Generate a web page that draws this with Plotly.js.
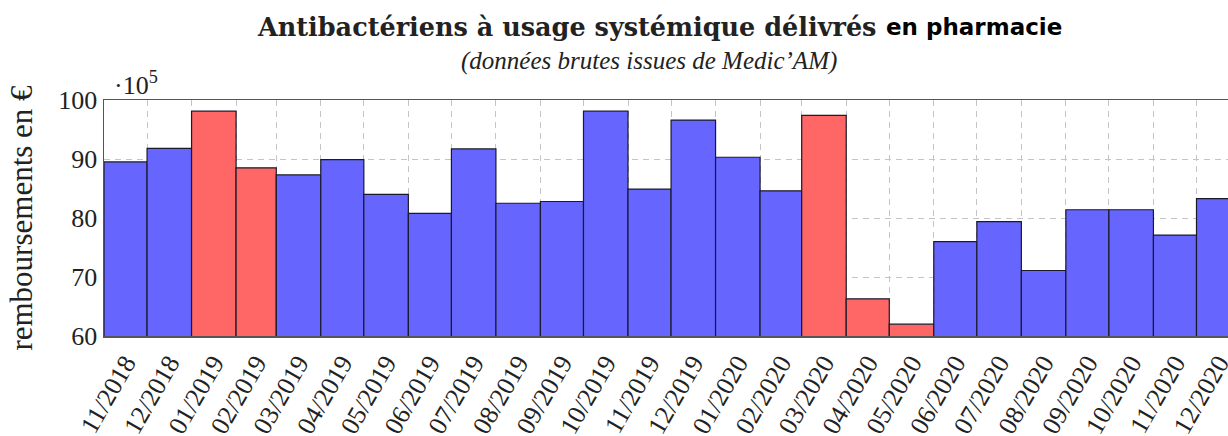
<!DOCTYPE html>
<html>
<head>
<meta charset="utf-8">
<script src="https://cdn.plot.ly/plotly-3.0.1.min.js"></script>
<style>
html,body{margin:0;padding:0;overflow:hidden;background:#fff;}
#chart{width:1250px;height:436px;}
</style>
</head>
<body>
<div id="chart"></div>
<script>
// Monthly reimbursements (in units of 10^5 €)
const months = ['11/2018','12/2018','01/2019','02/2019','03/2019','04/2019','05/2019','06/2019','07/2019','08/2019','09/2019','10/2019','11/2019','12/2019','01/2020','02/2020','03/2020','04/2020','05/2020','06/2020','07/2020','08/2020','09/2020','10/2020','11/2020','12/2020'];
const values = [89.5, 91.8, 98.1, 88.5, 87.3, 89.9, 84.0, 80.8, 91.7, 82.5, 82.8, 98.1, 84.9, 96.6, 90.3, 84.6, 97.4, 66.3, 62.0, 76.0, 79.4, 71.1, 81.4, 81.4, 77.1, 83.3];
const highlighted = ['01/2019','02/2019','03/2020','04/2020','05/2020'];
const yTicks = [60, 70, 80, 90, 100];

const DAY = 86400000;
function pad(n){return (n<10?'0':'')+n;}
function fmt(ms){const d=new Date(ms);return d.getUTCFullYear()+'-'+pad(d.getUTCMonth()+1)+'-'+pad(d.getUTCDate())+' '+pad(d.getUTCHours())+':'+pad(d.getUTCMinutes());}
const starts = [], widths = [], mids = [];
months.forEach(function(m){
  const mo = parseInt(m.slice(0,2),10), yr = parseInt(m.slice(3),10);
  const s = Date.UTC(yr, mo-1, 1), e = Date.UTC(yr, mo, 1);
  starts.push(fmt(s)); widths.push(e-s); mids.push(fmt(s+(e-s)/2));
});
const lastEnd = (function(){const m=months[months.length-1];return fmt(Date.UTC(parseInt(m.slice(3),10), parseInt(m.slice(0,2),10), 1));})();
const colors = months.map(function(m){return highlighted.indexOf(m)>=0 ? 'rgb(255,102,102)' : 'rgb(102,102,255)';});

const trace = {
  type:'bar', x: starts, y: values, width: widths, offset: 0,
  marker:{color: colors, line:{color:'#1a1a2a', width:1.2}},
  hoverinfo:'skip'
};

const L=104, T=100, B=336, W=1250, H=436, R=1241;
function px2x(p){return (p-L)/(R-L);}
function px2y(p){return (B-p)/(B-T);}

const layout = {
  width: W, height: H,
  margin:{l:L, r:W-R, t:T, b:H-B, pad:0},
  paper_bgcolor:'#fff', plot_bgcolor:'#fff',
  showlegend:false,
  bargap:0,
  xaxis:{
    type:'date', range:[starts[0], lastEnd],
    tickmode:'array', tickvals: mids, ticktext: months, tickangle:-60,
    ticks:'', showgrid:false, zeroline:false,
    showline:true, linecolor:'#555', linewidth:1.5, mirror:true,
    tickfont:{family:'Liberation Serif, serif', size:26, color:'#222'},
    minor:{tickmode:'array', tickvals: starts.concat([lastEnd]), showgrid:true, gridcolor:'#c4c4c4', gridwidth:1, griddash:'6px,5px', ticks:''}
  },
  yaxis:{
    range:[60,100], tickmode:'array', tickvals: yTicks, ticktext: yTicks.map(String),
    ticks:'', showgrid:true, gridcolor:'#c4c4c4', gridwidth:1, griddash:'6px,5px',
    zeroline:false, showline:true, linecolor:'#555', linewidth:1.5, mirror:true,
    tickfont:{family:'Liberation Serif, serif', size:26, color:'#222'},
    title:{text:'remboursements en €', font:{family:'Liberation Serif, serif', size:31, color:'#222'}, standoff:16}
  },
  annotations:[
    {xref:'paper', yref:'paper', x:px2x(878), y:px2y(27), xanchor:'right', yanchor:'middle', showarrow:false,
     text:'<b>Antibactériens à usage systémique délivrés</b>', font:{family:'DejaVu Serif, serif', size:25.5, color:'#222'}},
    {xref:'paper', yref:'paper', x:px2x(884), y:px2y(27), xanchor:'left', yanchor:'middle', showarrow:false,
     text:'<b>en pharmacie</b>', font:{family:'DejaVu Sans, sans-serif', size:23, color:'#000'}},
    {xref:'paper', yref:'paper', x:px2x(649), y:px2y(61), xanchor:'center', yanchor:'middle', showarrow:false,
     text:"<i>(données brutes issues de Medic’AM)</i>", font:{family:'Liberation Serif, serif', size:25, color:'#222'}},
    {xref:'paper', yref:'paper', x:px2x(112), y:px2y(84), xanchor:'left', yanchor:'middle', showarrow:false,
     text:'·10<sup>5</sup>', font:{family:'Liberation Serif, serif', size:26, color:'#222'}}
  ]
};

Plotly.newPlot('chart', [trace], layout, {displayModeBar:false, staticPlot:true});
</script>
</body>
</html>
